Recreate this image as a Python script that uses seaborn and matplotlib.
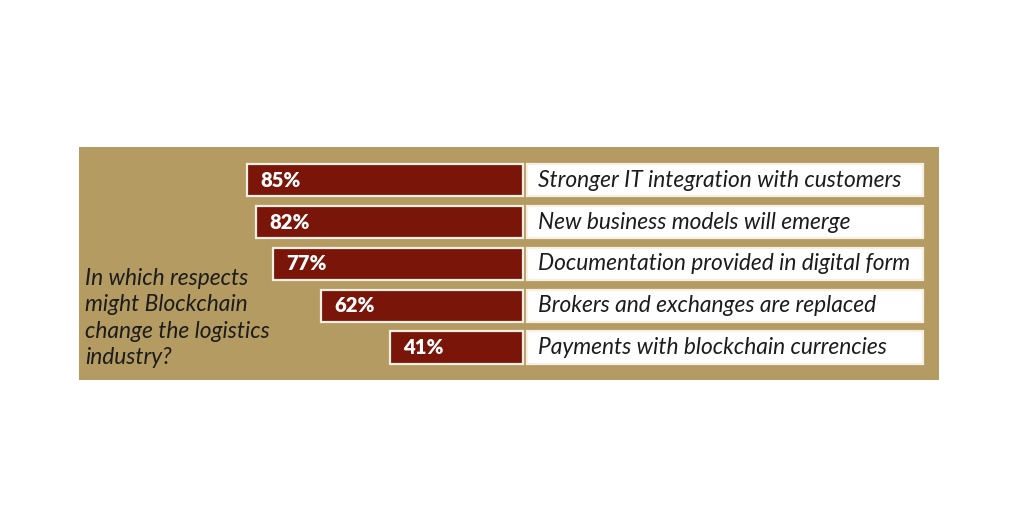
import matplotlib
matplotlib.use("Agg")
import matplotlib.pyplot as plt
import seaborn as sns
import pandas as pd

# ---- data ----
categories = [
    "Stronger IT integration with customers",
    "New business models will emerge",
    "Documentation provided in digital form",
    "Brokers and exchanges are replaced",
    "Payments with blockchain currencies",
]
values = [85, 82, 77, 62, 41]
value_labels = ["85%", "82%", "77%", "62%", "41%"]
question = "In which respects\nmight Blockchain\nchange the logistics\nindustry?"

# ---- style ----
panel_color = "#B39B62"
bar_color = "#7A1509"
edge_color = "#F7EFE4"
text_color = "#1C1C1C"

sns.set_theme(style="white")
plt.rcParams["font.family"] = ["Lato", "DejaVu Sans"]

fig = plt.figure(figsize=(10.24, 5.12), dpi=100)
fig.patch.set_facecolor("white")
ax = fig.add_axes([79 / 1024, (512 - 380) / 512, 860 / 1024, 233 / 512])
ax.set_facecolor(panel_color)

df = pd.DataFrame({"category": categories, "value": values})
sns.barplot(data=df, x="value", y="category", orient="h", color=bar_color,
            saturation=1, width=0.77, linewidth=1.6, edgecolor=edge_color, ax=ax)

# label boxes to the right of the bars
ypos = list(range(len(categories)))
box_left, box_span = -1.1, 122.1
ax.barh(ypos, [-box_span] * len(ypos), left=box_left, height=0.77,
        color="white", edgecolor=edge_color, linewidth=1.6)

ax.set_xlim(136.6, -128.0)
ax.set_ylim(4.78, -0.80)

for y, v, lab, cat in zip(ypos, values, value_labels, categories):
    ax.annotate(lab, xy=(v, y), xytext=(9.5, 0), textcoords="offset points",
                ha="left", va="center", color="white", fontsize=14.6,
                fontweight="heavy")
    ax.annotate(cat, xy=(box_left, y), xytext=(8.0, 0), textcoords="offset points",
                ha="left", va="center", color=text_color, fontsize=16.4,
                fontstyle="italic")

fig.text(85 / 1024, 1 - 318 / 512, question, ha="left", va="center",
         fontsize=16.4, fontstyle="italic", color=text_color, linespacing=1.32)

ax.set_xlabel("")
ax.set_ylabel("")
ax.set_xticks([])
ax.set_yticks([])
for s in ax.spines.values():
    s.set_visible(False)

fig.savefig("out.png", dpi=100, facecolor="white")
